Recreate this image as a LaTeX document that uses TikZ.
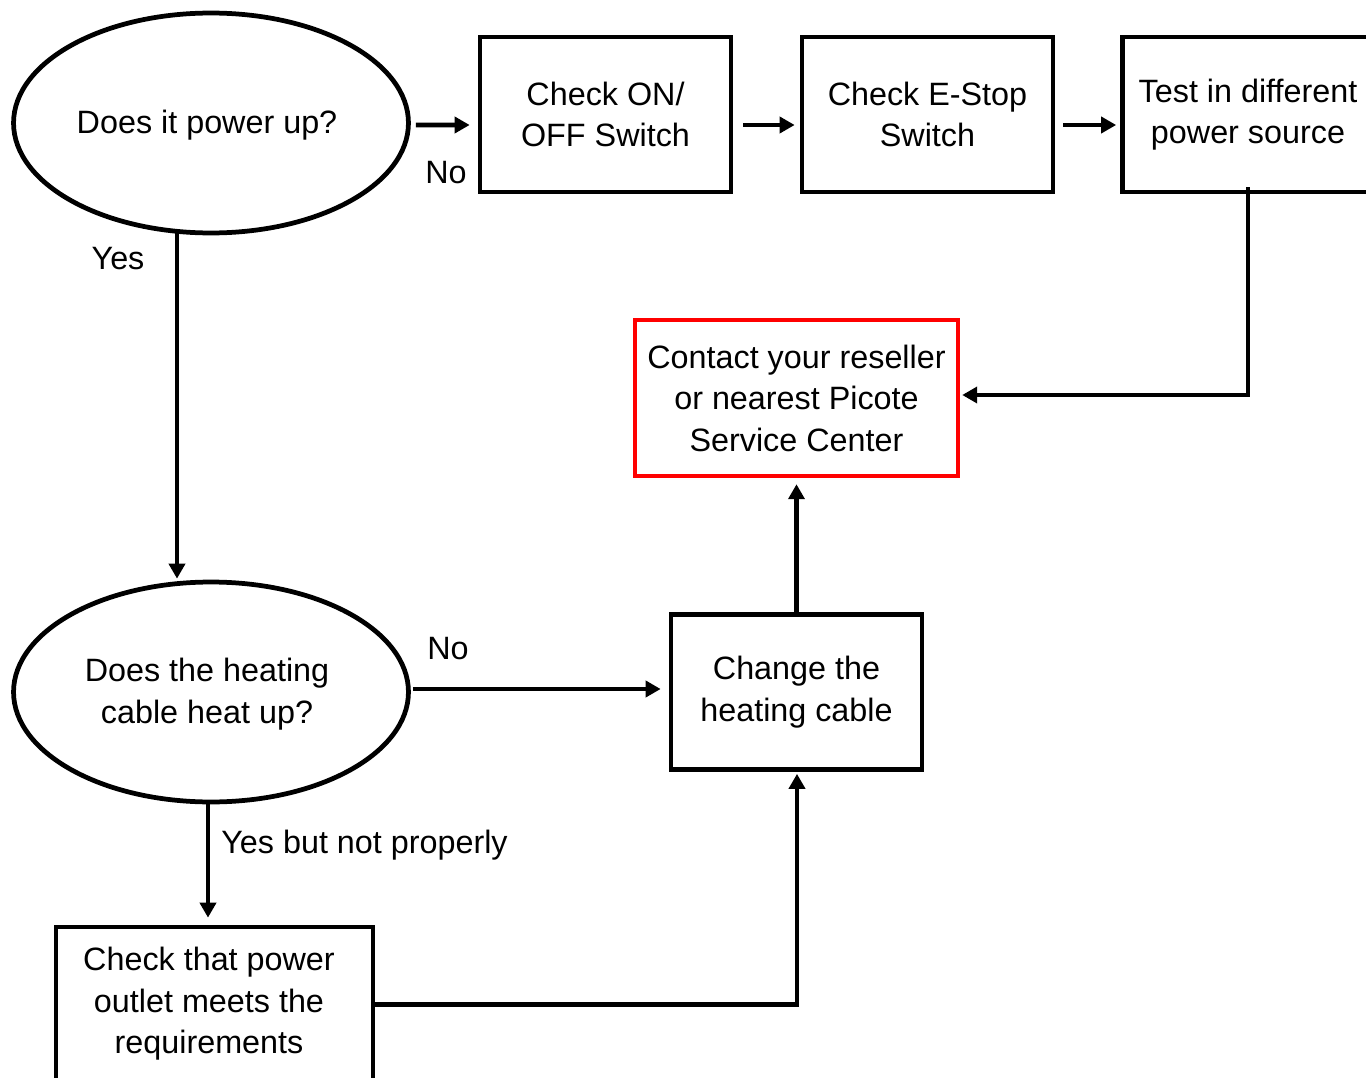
\documentclass[tikz,border=0pt]{standalone}
\usepackage{fontspec}
\setmainfont{Liberation Sans}
\usetikzlibrary{shapes.geometric,arrows.meta,calc}
\begin{document}
\begin{tikzpicture}[x=0.02cm,y=-0.02cm,
  txt/.style={font=\fontsize{18.4}{23.6}\selectfont, align=center},
  ln/.style={line width=0.095cm},
  box/.style={txt, draw, ln, rectangle, minimum width=5.02cm, minimum height=3.1cm, inner sep=0pt},
  oval/.style={txt, draw, ln, ellipse, minimum width=7.9cm, minimum height=4.4cm, inner sep=0pt},
  redbox/.style={txt, draw=red, line width=0.09cm, rectangle, minimum width=6.46cm, minimum height=3.12cm, inner sep=0pt},
  arr/.style={ln, -{Triangle[length=0.3cm,width=0.32cm]}},
  lbl/.style={txt, inner sep=0pt}]
\useasboundingbox (0,0) rectangle (1366,1078);
\clip (0,0) rectangle (1366,1078);
% nodes
\node[oval] (e1) at (211,123) {};
\node[lbl] (e1t) at (207,125) {Does it power up?};
\node[box] (b1) at (605.5,114.5) {Check ON/\\OFF Switch};
\node[box] (b2) at (927.5,114.5) {Check E-Stop\\Switch};
\node[box] (b3) at (1248,114.5) {Test in different\\power source};
\node[redbox] (rd) at (796.5,398) {Contact your reseller\\or nearest Picote\\Service Center};
\node[oval] (e2) at (211,692) {};
\node[lbl] (e2t) at (207,694) {Does the heating\\cable heat up?};
\node[box, minimum width=6.34cm] (bt) at (214.5,1004.5) {};
\node[lbl] (btt) at (209,1004) {Check that power\\outlet meets the\\requirements};
\node[box] (ch) at (796.5,692) {Change the\\heating cable};
% labels
\node[lbl] (no1) at (446,173) {No};
\node[lbl] (yes1) at (118,259) {Yes};
\node[lbl] (no2) at (448,649) {No};
\node[lbl, anchor=west] (ybn) at (221,845) {Yes but not properly};
% connectors
\draw[arr] ($(e1.east)+(5,2)$) -- ($(b1.west)+(-8,10.5)$);
\draw[arr] ($(b1.east)+(10,10.5)$) -- ($(b2.west)+(-5,10.5)$);
\draw[arr] ($(b2.east)+(8,10.5)$) -- ($(b3.west)+(-4,10.5)$);
\draw[arr] ($(b3.south)+(0,-7)$) |- ($(rd.east)+(2,-3)$);
\draw[arr] (ch.north) -- ($(rd.south)+(0,6)$);
\draw[arr] ($(e1.south)+(-34,-4)$) -- ($(e2.north)+(-34,-1)$);
\draw[arr] ($(e2.east)+(2,-3)$) -- ($(ch.west)+(-8,-3)$);
\draw[arr] ($(e2.south)+(-3,0)$) -- ($(bt.north)+(-6.5,-7)$);
\draw[arr] (bt.east) -| ($(ch.south)+(0.5,2)$);
\end{tikzpicture}
\end{document}
